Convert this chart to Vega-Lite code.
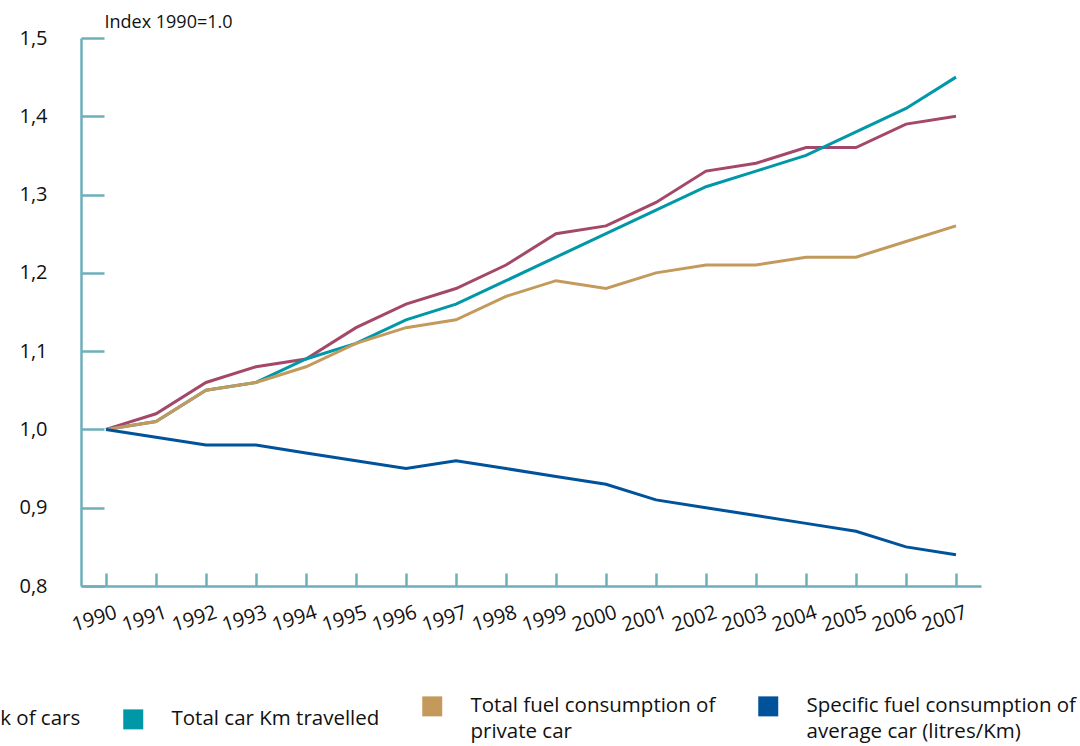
{
  "$schema": "https://vega.github.io/schema/vega-lite/v6.json",
  "width": 900,
  "height": 548,
  "autosize": {"type": "none"},
  "padding": {"left": 81, "top": 38, "right": 99, "bottom": 160},
  "background": "white",
  "config": {"view": {"stroke": null}, "font": "Open Sans"},
  "data": {"values": [
    {"year": "1990", "series": "Stock of cars", "value": 1.00},
    {"year": "1991", "series": "Stock of cars", "value": 1.02},
    {"year": "1992", "series": "Stock of cars", "value": 1.06},
    {"year": "1993", "series": "Stock of cars", "value": 1.08},
    {"year": "1994", "series": "Stock of cars", "value": 1.09},
    {"year": "1995", "series": "Stock of cars", "value": 1.13},
    {"year": "1996", "series": "Stock of cars", "value": 1.16},
    {"year": "1997", "series": "Stock of cars", "value": 1.18},
    {"year": "1998", "series": "Stock of cars", "value": 1.21},
    {"year": "1999", "series": "Stock of cars", "value": 1.25},
    {"year": "2000", "series": "Stock of cars", "value": 1.26},
    {"year": "2001", "series": "Stock of cars", "value": 1.29},
    {"year": "2002", "series": "Stock of cars", "value": 1.33},
    {"year": "2003", "series": "Stock of cars", "value": 1.34},
    {"year": "2004", "series": "Stock of cars", "value": 1.36},
    {"year": "2005", "series": "Stock of cars", "value": 1.36},
    {"year": "2006", "series": "Stock of cars", "value": 1.39},
    {"year": "2007", "series": "Stock of cars", "value": 1.40},
    {"year": "1990", "series": "Total car Km travelled", "value": 1.00},
    {"year": "1991", "series": "Total car Km travelled", "value": 1.01},
    {"year": "1992", "series": "Total car Km travelled", "value": 1.05},
    {"year": "1993", "series": "Total car Km travelled", "value": 1.06},
    {"year": "1994", "series": "Total car Km travelled", "value": 1.09},
    {"year": "1995", "series": "Total car Km travelled", "value": 1.11},
    {"year": "1996", "series": "Total car Km travelled", "value": 1.14},
    {"year": "1997", "series": "Total car Km travelled", "value": 1.16},
    {"year": "1998", "series": "Total car Km travelled", "value": 1.19},
    {"year": "1999", "series": "Total car Km travelled", "value": 1.22},
    {"year": "2000", "series": "Total car Km travelled", "value": 1.25},
    {"year": "2001", "series": "Total car Km travelled", "value": 1.28},
    {"year": "2002", "series": "Total car Km travelled", "value": 1.31},
    {"year": "2003", "series": "Total car Km travelled", "value": 1.33},
    {"year": "2004", "series": "Total car Km travelled", "value": 1.35},
    {"year": "2005", "series": "Total car Km travelled", "value": 1.38},
    {"year": "2006", "series": "Total car Km travelled", "value": 1.41},
    {"year": "2007", "series": "Total car Km travelled", "value": 1.45},
    {"year": "1990", "series": "Total fuel consumption of private car", "value": 1.00},
    {"year": "1991", "series": "Total fuel consumption of private car", "value": 1.01},
    {"year": "1992", "series": "Total fuel consumption of private car", "value": 1.05},
    {"year": "1993", "series": "Total fuel consumption of private car", "value": 1.06},
    {"year": "1994", "series": "Total fuel consumption of private car", "value": 1.08},
    {"year": "1995", "series": "Total fuel consumption of private car", "value": 1.11},
    {"year": "1996", "series": "Total fuel consumption of private car", "value": 1.13},
    {"year": "1997", "series": "Total fuel consumption of private car", "value": 1.14},
    {"year": "1998", "series": "Total fuel consumption of private car", "value": 1.17},
    {"year": "1999", "series": "Total fuel consumption of private car", "value": 1.19},
    {"year": "2000", "series": "Total fuel consumption of private car", "value": 1.18},
    {"year": "2001", "series": "Total fuel consumption of private car", "value": 1.20},
    {"year": "2002", "series": "Total fuel consumption of private car", "value": 1.21},
    {"year": "2003", "series": "Total fuel consumption of private car", "value": 1.21},
    {"year": "2004", "series": "Total fuel consumption of private car", "value": 1.22},
    {"year": "2005", "series": "Total fuel consumption of private car", "value": 1.22},
    {"year": "2006", "series": "Total fuel consumption of private car", "value": 1.24},
    {"year": "2007", "series": "Total fuel consumption of private car", "value": 1.26},
    {"year": "1990", "series": "Specific fuel consumption of average car (litres/Km)", "value": 1.00},
    {"year": "1991", "series": "Specific fuel consumption of average car (litres/Km)", "value": 0.99},
    {"year": "1992", "series": "Specific fuel consumption of average car (litres/Km)", "value": 0.98},
    {"year": "1993", "series": "Specific fuel consumption of average car (litres/Km)", "value": 0.98},
    {"year": "1994", "series": "Specific fuel consumption of average car (litres/Km)", "value": 0.97},
    {"year": "1995", "series": "Specific fuel consumption of average car (litres/Km)", "value": 0.96},
    {"year": "1996", "series": "Specific fuel consumption of average car (litres/Km)", "value": 0.95},
    {"year": "1997", "series": "Specific fuel consumption of average car (litres/Km)", "value": 0.96},
    {"year": "1998", "series": "Specific fuel consumption of average car (litres/Km)", "value": 0.95},
    {"year": "1999", "series": "Specific fuel consumption of average car (litres/Km)", "value": 0.94},
    {"year": "2000", "series": "Specific fuel consumption of average car (litres/Km)", "value": 0.93},
    {"year": "2001", "series": "Specific fuel consumption of average car (litres/Km)", "value": 0.91},
    {"year": "2002", "series": "Specific fuel consumption of average car (litres/Km)", "value": 0.90},
    {"year": "2003", "series": "Specific fuel consumption of average car (litres/Km)", "value": 0.89},
    {"year": "2004", "series": "Specific fuel consumption of average car (litres/Km)", "value": 0.88},
    {"year": "2005", "series": "Specific fuel consumption of average car (litres/Km)", "value": 0.87},
    {"year": "2006", "series": "Specific fuel consumption of average car (litres/Km)", "value": 0.85},
    {"year": "2007", "series": "Specific fuel consumption of average car (litres/Km)", "value": 0.84}
  ]},
  "mark": {"type": "line", "strokeWidth": 3},
  "encoding": {
    "x": {
      "field": "year", "type": "ordinal",
      "scale": {"type": "point", "padding": 0.5},
      "axis": {
        "title": null, "labelAngle": -18, "labelAlign": "center", "labelBaseline": "top",
        "labelFontSize": 20, "labelColor": "#111111", "labelPadding": 36, "labelOffset": -15,
        "tickSize": -13, "tickWidth": 2.5, "tickColor": "#6DAFBC",
        "domainColor": "#6DAFBC", "domainWidth": 2.5, "grid": false
      }
    },
    "y": {
      "field": "value", "type": "quantitative",
      "scale": {"domain": [0.8, 1.5], "nice": false, "zero": false},
      "axis": {
        "title": "Index 1990=1.0", "titleAngle": 0, "titleAlign": "left", "titleBaseline": "alphabetic",
        "titleX": 23, "titleY": -11, "titleFontSize": 18, "titleFontWeight": "normal", "titleColor": "#111111",
        "values": [0.8, 0.9, 1.0, 1.1, 1.2, 1.3, 1.4, 1.5],
        "labelExpr": "replace(format(datum.value, '.1f'), '.', ',')",
        "labelFontSize": 20, "labelColor": "#111111", "labelPadding": 57, "labelDy": -6,
        "tickSize": -23, "tickWidth": 2.5, "tickColor": "#6DAFBC",
        "domainColor": "#6DAFBC", "domainWidth": 2.5, "grid": false
      }
    },
    "color": {
      "field": "series", "type": "nominal",
      "scale": {
        "domain": ["Stock of cars", "Total car Km travelled", "Total fuel consumption of private car", "Specific fuel consumption of average car (litres/Km)"],
        "range": ["#A4486A", "#0098A8", "#C49A5C", "#00529B"]
      },
      "legend": {
        "title": null, "orient": "none", "direction": "horizontal", "columns": 4,
        "legendX": -170, "legendY": 658,
        "symbolType": "square", "symbolSize": 400, "symbolStrokeWidth": 0,
        "labelFontSize": 20.5, "labelColor": "#111111", "labelOffset": 28, "labelLimit": 0,
        "columnPadding": 42,
        "labelExpr": "datum.label == 'Total fuel consumption of private car' ? ['Total fuel consumption of', 'private car'] : datum.label == 'Specific fuel consumption of average car (litres/Km)' ? ['Specific fuel consumption of', 'average car (litres/Km)'] : datum.label",
        "encode": {
          "symbols": {"update": {"fill": {"scale": "color", "field": "value"}, "strokeWidth": {"value": 0}}},
          "labels": {"update": {"lineHeight": {"value": 26}}}
        }
      }
    }
  }
}
